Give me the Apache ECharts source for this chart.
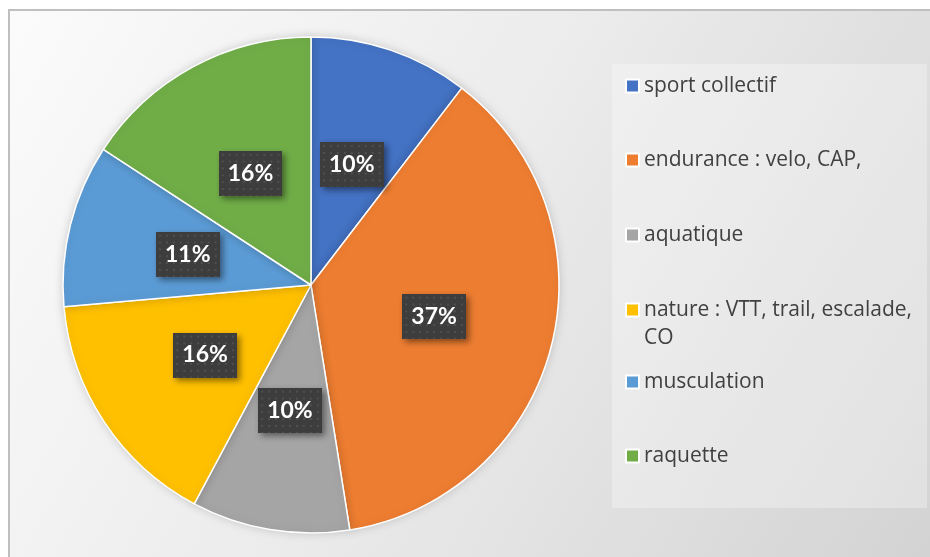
<!DOCTYPE html>
<html>
<head>
<meta charset="utf-8">
<title>pie</title>
<script src="https://cdn.jsdelivr.net/npm/echarts@6/dist/echarts.min.js"></script>
<style>
  html, body { margin: 0; padding: 0; background: #ffffff; }
  #chart { width: 930px; height: 557px; }
</style>
</head>
<body>
<div id="chart"></div>
<script>
// data
var categories = ['sport collectif', 'endurance : velo, CAP,', 'aquatique', 'nature : VTT, trail, escalade, CO', 'musculation', 'raquette'];
var values = [10.4, 37.1, 10.3, 15.8, 10.6, 15.8];
var colors = ['#4472C4', '#ED7D31', '#A5A5A5', '#FFC000', '#5B9BD5', '#70AD47'];

// legend rows, excel spacing is uneven
var legendTops = [75, 149, 224, 268, 371, 445];

// dotted dark background for the data labels
function makePattern() {
  var c = document.createElement('canvas');
  c.width = 64; c.height = 46;
  var ctx = c.getContext('2d');
  ctx.fillStyle = '#3d3d3d';
  ctx.fillRect(0, 0, c.width, c.height);
  ctx.fillStyle = '#505050';
  for (var y = 3; y < c.height; y += 7) {
    for (var x = 3; x < c.width; x += 7) {
      ctx.fillRect(x, y, 2, 2);
    }
  }
  return c;
}

var chart = echarts.init(document.getElementById('chart'));

var legends = categories.map(function (name, i) {
  var multi = name.indexOf('nature') === 0;
  return {
    data: [name],
    orient: 'vertical',
    left: 625,
    top: legendTops[i],
    padding: 0,
    itemWidth: 13,
    itemHeight: 13,
    icon: 'rect',
    selectedMode: false,
    formatter: function (n) {
      // empty first line keeps the icon on the first text line
      return multi ? '\nnature : VTT, trail, escalade,\nCO' : n;
    },
    textStyle: {
      fontFamily: 'Open Sans',
      fontSize: 21,
      color: '#404040',
      lineHeight: multi ? 28 : 22
    }
  };
});

var option = {
  animation: false,
  color: colors,
  graphic: [{
    type: 'rect',
    left: 8, top: 9,
    shape: { width: 940, height: 560 },
    style: {
      fill: new echarts.graphic.LinearGradient(0, 0, 1, 1, [
        { offset: 0, color: '#fbfbfb' },
        { offset: 0.45, color: '#ececec' },
        { offset: 1, color: '#d2d2d2' }
      ]),
      stroke: '#bfbfbf',
      lineWidth: 2
    },
    z: -10
  }, {
    type: 'rect',
    left: 612, top: 64,
    shape: { width: 315, height: 444 },
    style: { fill: 'rgba(255,255,255,0.3)' },
    z: -9
  }],
  legend: legends,
  series: [{
    type: 'pie',
    center: [311, 285],
    radius: 248,
    startAngle: 90,
    clockwise: true,
    data: categories.map(function (n, i) { return { name: n, value: values[i] }; }),
    itemStyle: {
      borderColor: '#ffffff',
      borderWidth: 1.5,
      shadowBlur: 8,
      shadowColor: 'rgba(0,0,0,0.15)'
    },
    label: {
      position: 'inside',
      formatter: function (p) { return Math.round(p.percent) + '%'; },
      fontFamily: 'Lato',
      fontWeight: 'bold',
      fontSize: 23,
      color: '#ffffff',
      padding: [12, 9, 10, 9],
      backgroundColor: { image: makePattern() },
      shadowBlur: 6,
      shadowColor: 'rgba(0,0,0,0.45)',
      shadowOffsetX: 3,
      shadowOffsetY: 3
    },
    labelLine: { show: false },
    emphasis: { disabled: true }
  }]
};

chart.setOption(option);
</script>
</body>
</html>
